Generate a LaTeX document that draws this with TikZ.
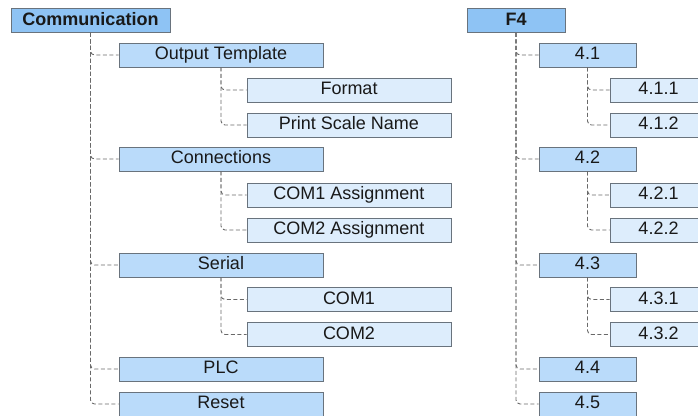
\documentclass[tikz,border=0pt]{standalone}
\usepackage{fontspec}
\setmainfont{Liberation Sans}
\usetikzlibrary{positioning}
\definecolor{topblue}{RGB}{142,195,244}
\definecolor{midblue}{RGB}{186,219,250}
\definecolor{leafblue}{RGB}{221,237,252}
\definecolor{boxgray}{RGB}{105,115,125}
\definecolor{linkgray}{RGB}{105,105,105}
\definecolor{inkblack}{RGB}{25,25,25}

\begin{document}
\begin{tikzpicture}[x=1pt, y=-1pt,
    menubox/.style={rectangle, draw=boxgray, line width=0.8pt,
                    minimum height=24pt, inner sep=0pt, text=inkblack,
                    text height=13pt, text depth=3.8pt,
                    font=\fontsize{18}{20}\selectfont},
    rootbox/.style={menubox, fill=topblue, font=\fontsize{18}{20}\selectfont\bfseries},
    midbox/.style={menubox, fill=midblue},
    leafbox/.style={menubox, fill=leafblue},
    link/.style={draw=linkgray, line width=0.9pt,
                 dash pattern=on 4pt off 2.5pt, rounded corners=4pt},
]
\useasboundingbox (0,0) rectangle (698,415);

%---------------------------------------------------------------
% LEFT: Communication menu
%---------------------------------------------------------------
\node[rootbox, minimum width=159pt] (comm) at (90.5,20.5) {Communication};

\foreach \name/\y/\txt in {otpl/55/Output Template, conn/159/Connections,
                           ser/265/Serial, plc/369/PLC, rst/404/Reset} {
    \node[midbox, minimum width=204pt] (\name) at (221,\y) {\txt};
    \draw[link] (comm.south) |- (\name.west);
}

% second level, one parent each
\foreach \name/\up/\y/\txt in {fmt/otpl/90/Format,
                               psn/otpl/125/Print Scale Name,
                               cpa/conn/195/COM1 Assignment,
                               cpb/conn/230/COM2 Assignment,
                               coma/ser/299.5/COM1,
                               comb/ser/334.5/COM2} {
    \node[leafbox, minimum width=204pt] (\name) at (349,\y) {\txt};
    \draw[link] (\up.south) |- (\name.west);
}

%---------------------------------------------------------------
% RIGHT: F4 numbering
%---------------------------------------------------------------
\node[rootbox, minimum width=98pt] (f4) at (516,20.5) {F4};

\foreach \k/\y in {1/55, 2/159, 3/265, 4/369, 5/404} {
    \node[midbox, minimum width=97pt] (f4\k) at (587.5,\y) {4.\k};
    \draw[link] (f4.south) |- (f4\k.west);
}

\foreach \k/\j/\y in {1/1/90, 1/2/125, 2/1/195, 2/2/230, 3/1/299.5, 3/2/334.5} {
    \node[leafbox, minimum width=97pt] (f4\k\j) at (658.5,\y) {4.\k.\j};
    \draw[link] (f4\k.south) |- (f4\k\j.west);
}

\end{tikzpicture}
\end{document}
